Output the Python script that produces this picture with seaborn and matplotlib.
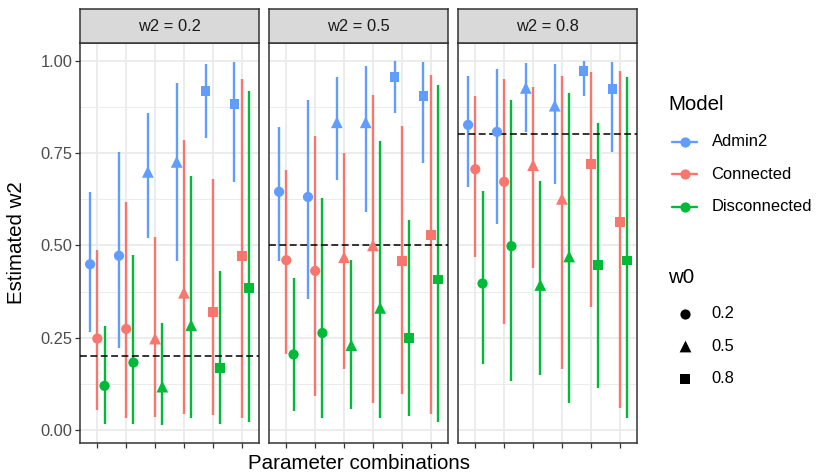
import numpy as np
import pandas as pd
import matplotlib
matplotlib.use("Agg")
import matplotlib.pyplot as plt
import seaborn as sns

# ---- data -------------------------------------------------------------
w2_values = [0.2, 0.5, 0.8]
models = ["Admin2", "Connected", "Disconnected"]
w0_levels = [0.2, 0.5, 0.8]
combo_w0 = [0.2, 0.2, 0.5, 0.5, 0.8, 0.8]

# w2 = 0.2
admin2_est_02 = [0.449, 0.472, 0.699, 0.726, 0.917, 0.882]
admin2_lo_02 = [0.267, 0.222, 0.520, 0.459, 0.791, 0.671]
admin2_hi_02 = [0.644, 0.752, 0.859, 0.940, 0.992, 0.995]
connected_est_02 = [0.248, 0.274, 0.248, 0.372, 0.320, 0.471]
connected_lo_02 = [0.055, 0.032, 0.037, 0.043, 0.041, 0.034]
connected_hi_02 = [0.487, 0.617, 0.523, 0.785, 0.680, 0.949]
disconnected_est_02 = [0.120, 0.183, 0.118, 0.284, 0.168, 0.385]
disconnected_lo_02 = [0.016, 0.016, 0.014, 0.032, 0.016, 0.021]
disconnected_hi_02 = [0.282, 0.475, 0.289, 0.689, 0.430, 0.918]

# w2 = 0.5
admin2_est_05 = [0.645, 0.631, 0.833, 0.833, 0.955, 0.905]
admin2_lo_05 = [0.458, 0.354, 0.677, 0.590, 0.859, 0.723]
admin2_hi_05 = [0.821, 0.893, 0.956, 0.986, 0.999, 0.997]
connected_est_05 = [0.460, 0.431, 0.468, 0.500, 0.457, 0.529]
connected_lo_05 = [0.207, 0.093, 0.165, 0.073, 0.099, 0.044]
connected_hi_05 = [0.705, 0.797, 0.750, 0.908, 0.824, 0.962]
disconnected_est_05 = [0.205, 0.263, 0.230, 0.331, 0.250, 0.408]
disconnected_lo_05 = [0.052, 0.033, 0.057, 0.032, 0.039, 0.023]
disconnected_hi_05 = [0.412, 0.628, 0.460, 0.783, 0.569, 0.935]

# w2 = 0.8
admin2_est_08 = [0.826, 0.807, 0.926, 0.878, 0.971, 0.922]
admin2_lo_08 = [0.657, 0.558, 0.808, 0.667, 0.904, 0.754]
admin2_hi_08 = [0.959, 0.976, 0.994, 0.992, 1.000, 0.997]
connected_est_08 = [0.706, 0.672, 0.717, 0.626, 0.720, 0.563]
connected_lo_08 = [0.468, 0.287, 0.438, 0.165, 0.334, 0.061]
connected_hi_08 = [0.904, 0.949, 0.928, 0.959, 0.970, 0.973]
disconnected_est_08 = [0.397, 0.498, 0.393, 0.470, 0.446, 0.459]
disconnected_lo_08 = [0.179, 0.133, 0.149, 0.075, 0.115, 0.034]
disconnected_hi_08 = [0.646, 0.892, 0.675, 0.913, 0.832, 0.955]

y_ticks = [0.00, 0.25, 0.50, 0.75, 1.00]
y_tick_labels = ["0.00", "0.25", "0.50", "0.75", "1.00"]

series = {
    (0.2, "Admin2"): (admin2_est_02, admin2_lo_02, admin2_hi_02),
    (0.2, "Connected"): (connected_est_02, connected_lo_02, connected_hi_02),
    (0.2, "Disconnected"): (disconnected_est_02, disconnected_lo_02, disconnected_hi_02),
    (0.5, "Admin2"): (admin2_est_05, admin2_lo_05, admin2_hi_05),
    (0.5, "Connected"): (connected_est_05, connected_lo_05, connected_hi_05),
    (0.5, "Disconnected"): (disconnected_est_05, disconnected_lo_05, disconnected_hi_05),
    (0.8, "Admin2"): (admin2_est_08, admin2_lo_08, admin2_hi_08),
    (0.8, "Connected"): (connected_est_08, connected_lo_08, connected_hi_08),
    (0.8, "Disconnected"): (disconnected_est_08, disconnected_lo_08, disconnected_hi_08),
}

rows = []
for (w2, model), (est, lo, hi) in series.items():
    for i, (e, l, h) in enumerate(zip(est, lo, hi)):
        rows.append(dict(w2=w2, model=model, combo=i, w0=combo_w0[i],
                         est=e, lo=l, hi=h))
df = pd.DataFrame(rows)

# ---- style --------------------------------------------------------------
sns.set_theme(style="white")
plt.rcParams["font.family"] = ["Liberation Sans", "DejaVu Sans"]

palette = {"Admin2": "#619CFF", "Connected": "#F8766D", "Disconnected": "#00BA38"}
markers = {0.2: "o", 0.5: "^", 0.8: "s"}
marker_size = {0.2: 54, 0.5: 72, 0.8: 50}
dodge = {"Admin2": -0.25, "Connected": 0.0, "Disconnected": 0.25}
df["xpos"] = df["combo"] + df["model"].map(dodge)

GRID = "#EBEBEB"
BORDER = "#333333"
TICKTXT = "#4D4D4D"
TXT_SMALL = 11.9
TXT_BIG = 14.8

W, H = 816, 473
fig = plt.figure(figsize=(W / 100, H / 100), dpi=100)


def px_rect(x0, y0, x1, y1):
    return [x0 / W, 1 - y1 / H, (x1 - x0) / W, (y1 - y0) / H]


panel_x = [(80, 259), (269, 448), (458, 637)]
panel_top, panel_bottom, strip_top = 43, 443, 9.5

for k, w2 in enumerate(w2_values):
    x0, x1 = panel_x[k]
    ax = fig.add_axes(px_rect(x0, panel_top, x1, panel_bottom))
    sub = df[df["w2"] == w2]

    # grid
    ax.set_xlim(-0.6, 5.6)
    ax.set_ylim(-0.0345, 1.0475)
    ax.set_xticks(range(6))
    ax.set_yticks(y_ticks)
    ax.set_yticks([0.125, 0.375, 0.625, 0.875], minor=True)
    ax.grid(True, which="major", color=GRID, lw=1.3, zorder=0)
    ax.grid(True, which="minor", axis="y", color=GRID, lw=0.65, zorder=0)
    ax.set_axisbelow(True)

    # intervals
    for model in models:
        m = sub[sub["model"] == model]
        ax.vlines(m["xpos"], m["lo"], m["hi"], color=palette[model],
                  lw=1.7, zorder=2)

    # target value
    ax.axhline(w2, color="black", lw=1.1, ls=(0, (4.5, 2.3)), zorder=3)

    # point estimates
    for w0 in w0_levels:
        part = sub[sub["w0"] == w0]
        sns.scatterplot(data=part, x="xpos", y="est", hue="model",
                        palette=palette, marker=markers[w0],
                        s=marker_size[w0], linewidth=0, ax=ax,
                        legend=False, zorder=4)

    ax.set_xlabel("")
    ax.set_ylabel("")
    ax.set_xticklabels([])
    for sp in ax.spines.values():
        sp.set_color(BORDER)
        sp.set_linewidth(1.1)
    ax.tick_params(axis="x", which="major", bottom=True, length=3.4,
                   width=0.9, color=BORDER)
    ax.tick_params(axis="y", which="minor", left=False)
    if k == 0:
        ax.set_yticklabels(y_tick_labels)
        ax.tick_params(axis="y", which="major", left=True, length=3.4,
                       width=0.9, color=BORDER, labelsize=TXT_SMALL,
                       labelcolor=TICKTXT, pad=2)
    else:
        ax.set_yticklabels([])
        ax.tick_params(axis="y", which="major", left=False)

    # facet strip
    sax = fig.add_axes(px_rect(x0, strip_top, x1, panel_top))
    sax.set_facecolor("#D9D9D9")
    sax.set_xticks([])
    sax.set_yticks([])
    for sp in sax.spines.values():
        sp.set_color(BORDER)
        sp.set_linewidth(1.1)
    sax.text(0.5, 0.5, f"w2 = {w2}", ha="center", va="center",
             fontsize=TXT_SMALL, color="#1A1A1A", transform=sax.transAxes)

# axis titles
fig.text(358.5 / W, 1 - 463 / H, "Parameter combinations", ha="center",
         va="center", fontsize=TXT_BIG, color="black")
fig.text(17 / W, 1 - 243 / H, "Estimated w2", ha="center", va="center",
         rotation=90, fontsize=TXT_BIG, color="black")

# ---- legends --------------------------------------------------------------
lax = fig.add_axes(px_rect(640, 60, 816, 420))
lax.set_xlim(640, 816)
lax.set_ylim(420, 60)
lax.axis("off")

lax.text(668, 104, "Model", fontsize=TXT_BIG, va="center", ha="left",
         color="black")
for i, model in enumerate(models):
    yy = 141.5 + 32.5 * i
    lax.plot([672, 697], [yy, yy], color=palette[model], lw=1.7)
    lax.scatter([685], [yy], color=palette[model], s=54, marker="o",
                linewidths=0, zorder=3)
    lax.text(711.5, yy, model, fontsize=TXT_SMALL, va="center", ha="left",
             color="black")

lax.text(668, 277, "w0", fontsize=TXT_BIG, va="center", ha="left",
         color="black")
for i, w0 in enumerate(w0_levels):
    yy = 313.5 + 32.5 * i
    lax.scatter([685], [yy], color="black", s=marker_size[w0],
                marker=markers[w0], linewidths=0)
    lax.text(711.5, yy, f"{w0}", fontsize=TXT_SMALL, va="center",
             ha="left", color="black")

fig.savefig("out.png", dpi=100)
